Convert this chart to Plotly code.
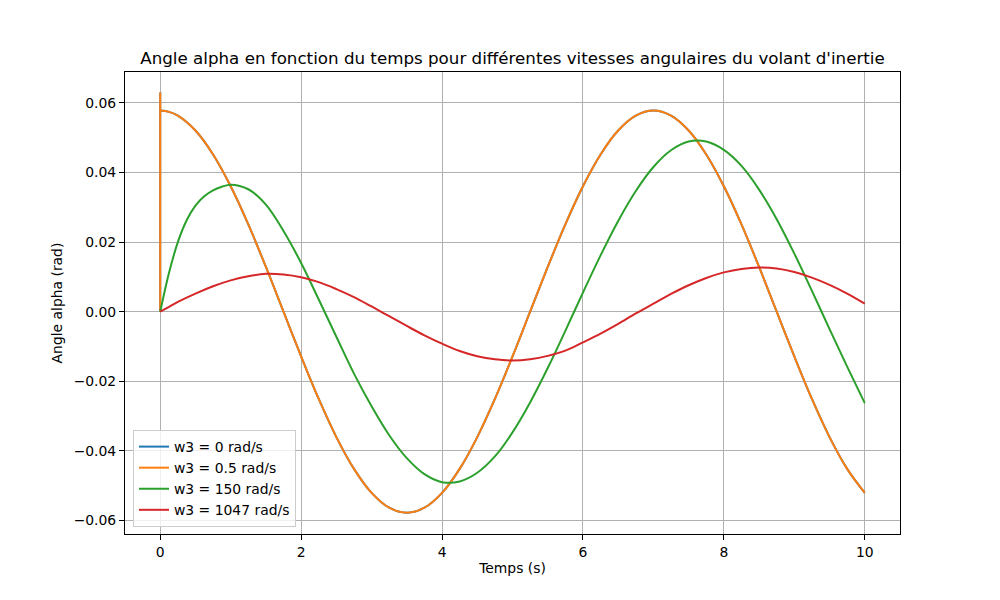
import plotly.graph_objects as go

# Time grids (s)
t = [0.0, 0.125, 0.25, 0.5, 0.75, 1.0, 1.25, 1.5, 1.75, 2.0, 2.25, 2.5, 2.75, 3.0, 3.25, 3.5, 3.75,
     4.0, 4.25, 4.5, 4.75, 5.0, 5.25, 5.5, 5.75, 6.0, 6.25, 6.5, 6.75, 7.0, 7.25, 7.5, 7.75,
     8.0, 8.25, 8.5, 8.75, 9.0, 9.25, 9.5, 9.75, 10.0]

t_w150 = [0.0, 0.125, 0.25, 0.375, 0.5, 0.625, 0.75, 0.875, 1.0, 1.25, 1.5, 1.75, 2.0, 2.25, 2.5,
          2.75, 3.0, 3.25, 3.5, 3.75, 4.0, 4.25, 4.5, 4.75, 5.0, 5.25, 5.5, 5.75, 6.0, 6.25, 6.5,
          6.75, 7.0, 7.25, 7.5, 7.75, 8.0, 8.25, 8.5, 8.75, 9.0, 9.25, 9.5, 9.75, 10.0]

# initial transient at t = 0 (vertical spike of the w3 = 0 / 0.5 curves)
spike_t = [0.0, 0.0, 0.0]
spike_alpha = [0.0, 0.063, 0.0578]

alpha_w0 = [0.0578, 0.05744, 0.05635, 0.05208, 0.04519, 0.03604, 0.02508, 0.01286, 0.0, -0.01286,
            -0.02508, -0.03604, -0.04519, -0.05208, -0.05635, -0.0578, -0.05635, -0.05208, -0.04519,
            -0.03604, -0.02508, -0.01286, 0.0, 0.01286, 0.02508, 0.03604, 0.04519, 0.05208, 0.05635,
            0.0578, 0.05635, 0.05208, 0.04519, 0.03604, 0.02508, 0.01286, 0.0, -0.01286, -0.02508,
            -0.03604, -0.04519, -0.05208]

alpha_w05 = [0.0578, 0.05744, 0.05635, 0.05208, 0.04519, 0.03604, 0.02508, 0.01286, 0.0, -0.01286,
             -0.02508, -0.03604, -0.04519, -0.05208, -0.05635, -0.0578, -0.05635, -0.05208, -0.04519,
             -0.03604, -0.02508, -0.01286, 0.0, 0.01286, 0.02508, 0.03604, 0.04519, 0.05208, 0.05635,
             0.0578, 0.05635, 0.05208, 0.04519, 0.03604, 0.02508, 0.01286, 0.0, -0.01286, -0.02508,
             -0.03604, -0.04519, -0.05208]

alpha_w150 = [0.0, 0.0112, 0.0200, 0.0263, 0.0305, 0.0332, 0.0349, 0.0359, 0.0365, 0.0352,
              0.0308, 0.0232, 0.0140, 0.0035, -0.0072, -0.0178, -0.0272, -0.0355, -0.0421,
              -0.0467, -0.0490, -0.0488, -0.0463, -0.0416, -0.0347, -0.0261, -0.0162, -0.0055,
              0.0055, 0.0162, 0.0261, 0.0347, 0.0416, 0.0464, 0.0489, 0.0489, 0.0465, 0.0419,
              0.0351, 0.0266, 0.0167, 0.0060, -0.0050, -0.0158, -0.0263]

alpha_w1047 = [0.0, 0.0014, 0.0028, 0.0052, 0.0073, 0.0090, 0.0102, 0.0109, 0.0107, 0.0099,
               0.0085, 0.0065, 0.0042, 0.0015, -0.0013, -0.0041, -0.0068, -0.0092, -0.0113,
               -0.0128, -0.0137, -0.01405, -0.0137, -0.0127, -0.0112, -0.0088, -0.0063, -0.0035,
               -0.0005, 0.0023, 0.0051, 0.0076, 0.0097, 0.0113, 0.0123, 0.0127, 0.0124, 0.0114,
               0.0098, 0.0077, 0.0052, 0.0023]

labels = ["w3 = 0 rad/s", "w3 = 0.5 rad/s", "w3 = 150 rad/s", "w3 = 1047 rad/s"]
colors = ["#1f77b4", "#ff7f0e", "#2ca02c", "#d62728"]

x_ticks = [0, 2, 4, 6, 8, 10]
x_ticktext = ["0", "2", "4", "6", "8", "10"]
y_ticks = [-0.06, -0.04, -0.02, 0.0, 0.02, 0.04, 0.06]
y_ticktext = ["\u22120.06", "\u22120.04", "\u22120.02", "0.00", "0.02", "0.04", "0.06"]

series = [
    (t, alpha_w0, True),
    (t, alpha_w05, True),
    (t_w150, alpha_w150, False),
    (t, alpha_w1047, False),
]

fig = go.Figure()
for i, ((xs, ys, has_spike), name, col) in enumerate(zip(series, labels, colors)):
    fig.add_trace(go.Scatter(
        x=xs, y=ys, mode="lines", name=name, legendgroup=f"g{i}",
        line=dict(color=col, width=2, shape="spline", smoothing=1.0),
    ))
    if has_spike:
        fig.add_trace(go.Scatter(
            x=spike_t, y=spike_alpha, mode="lines", name=name, legendgroup=f"g{i}",
            showlegend=False, line=dict(color=col, width=2),
        ))

font_family = "DejaVu Sans"
fig.update_layout(
    width=1000, height=600,
    paper_bgcolor="white", plot_bgcolor="white",
    margin=dict(l=125, r=100, t=72, b=66, pad=0),
    font=dict(family=font_family, size=13.9, color="black"),
    title=dict(
        text="Angle alpha en fonction du temps pour différentes vitesses angulaires du volant d'inertie",
        x=0.5125, xanchor="center", xref="container",
        y=1 - 58 / 600, yanchor="middle", yref="container",
        font=dict(family=font_family, size=16.7, color="black"),
    ),
    showlegend=True,
    legend=dict(
        x=0.0103, y=0.015, xanchor="left", yanchor="bottom",
        bgcolor="rgba(255,255,255,0.8)", bordercolor="#cccccc", borderwidth=1,
        font=dict(family=font_family, size=13.9, color="black"),
        tracegroupgap=0, itemwidth=30,
    ),
)

fig.update_xaxes(
    range=[-0.5, 10.5], tickmode="array", tickvals=x_ticks, ticktext=x_ticktext,
    showgrid=True, gridcolor="#b0b0b0", gridwidth=1,
    showline=True, linecolor="black", linewidth=1, mirror=True,
    ticks="outside", ticklen=5, tickwidth=1, tickcolor="black",
    zeroline=False,
    title=dict(text="Temps (s)", standoff=4, font=dict(family=font_family, size=13.9)),
)
fig.update_yaxes(
    range=[-0.0639, 0.0689], tickmode="array", tickvals=y_ticks, ticktext=y_ticktext,
    showgrid=True, gridcolor="#b0b0b0", gridwidth=1,
    showline=True, linecolor="black", linewidth=1, mirror=True,
    ticks="outside", ticklen=5, tickwidth=1, tickcolor="black",
    zeroline=False,
    title=dict(text="Angle alpha (rad)", standoff=7, font=dict(family=font_family, size=13.9)),
)

fig.write_html("out.html")
